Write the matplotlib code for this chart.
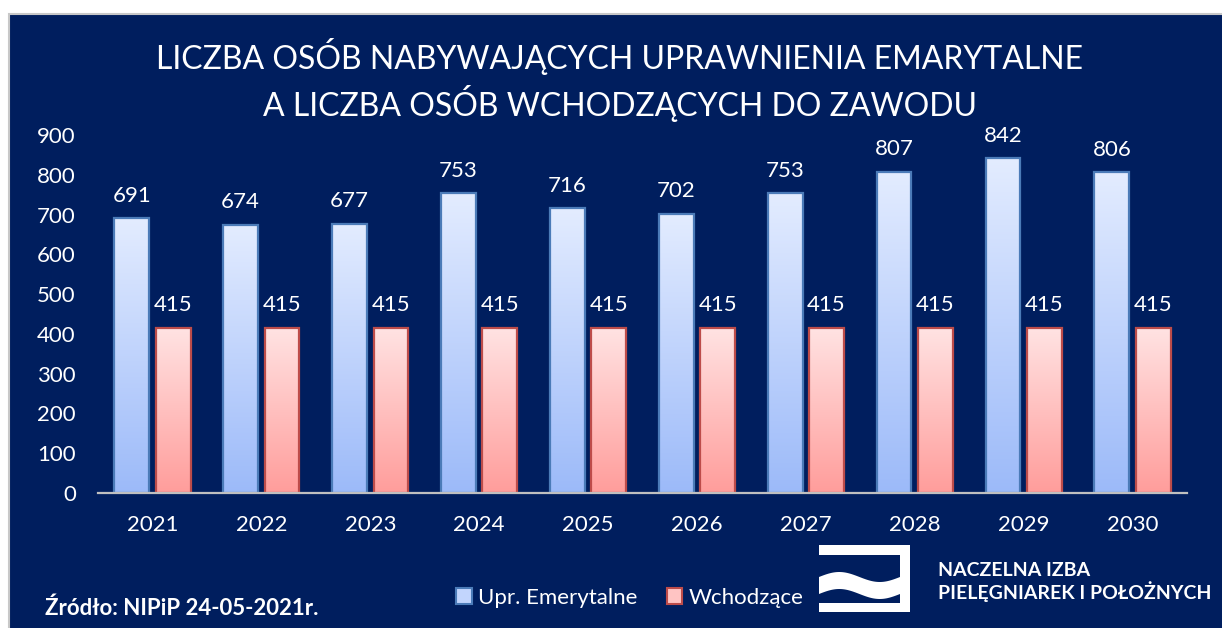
import numpy as np
import matplotlib.pyplot as plt
from matplotlib.patches import Rectangle, Polygon
from matplotlib.colors import LinearSegmentedColormap

years = ['2021', '2022', '2023', '2024', '2025', '2026', '2027', '2028', '2029', '2030']
emerytalne = [691, 674, 677, 753, 716, 702, 753, 807, 842, 806]
wchodzace = [415, 415, 415, 415, 415, 415, 415, 415, 415, 415]
yticks = [0, 100, 200, 300, 400, 500, 600, 700, 800, 900]

NAVY = '#001E5E'
W, H = 1222, 628

plt.rcParams['font.family'] = ['Lato', 'DejaVu Sans']


def px(x, y):
    # pixel position (from top-left) to figure fraction
    return x / W, 1 - y / H


def gradient_bars(ax, bars, top_color, bottom_color, edge):
    cmap = LinearSegmentedColormap.from_list('g', [bottom_color, top_color])
    grad = np.linspace(0, 1, 256).reshape(-1, 1)
    for b in bars:
        x0, y0 = b.get_x(), b.get_y()
        w, h = b.get_width(), b.get_height()
        ax.imshow(grad, cmap=cmap, origin='lower', aspect='auto',
                  extent=[x0, x0 + w, y0, y0 + h], zorder=2)
        b.set_facecolor('none')
        b.set_edgecolor(edge)
        b.set_linewidth(1.6)
        b.set_zorder(3)


def main():
    fig = plt.figure(figsize=(W / 100, H / 100), dpi=100, facecolor='white')

    # navy panel with a thin grey frame
    x0, y0 = px(9, H)
    x1, y1 = px(W, 14)
    fig.patches.append(Rectangle((x0, y0 - 0.01), x1 - x0 + 0.01, y1 - y0 + 0.01, transform=fig.transFigure,
                                 facecolor=NAVY, edgecolor='#C8C8C8', linewidth=1.5, zorder=-1))

    left, bottom = px(98, 493)
    right, top = px(1187, 135)
    ax = fig.add_axes([left, bottom, right - left, top - bottom])
    ax.set_facecolor('none')

    x = np.arange(len(years))
    width = 0.32
    off = 0.19
    b1 = ax.bar(x - off, emerytalne, width)
    b2 = ax.bar(x + off, wchodzace, width)
    gradient_bars(ax, b1, '#E3ECFF', '#9CBAF9', '#4B7BB8')
    gradient_bars(ax, b2, '#FFE3E3', '#FF9D9B', '#BD4C4A')

    for bars, vals in ((b1, emerytalne), (b2, wchodzace)):
        for b, v in zip(bars, vals):
            ax.annotate(str(v), (b.get_x() + b.get_width() / 2, v), xytext=(0, 9),
                        textcoords='offset points', ha='center', va='bottom',
                        color='white', fontsize=16)

    ax.set_xlim(-0.5, len(years) - 0.5)
    ax.set_ylim(0, 900)
    ax.set_xticks(x)
    ax.set_xticklabels(years)
    ax.set_yticks(yticks)
    ax.tick_params(length=0, colors='white', labelsize=16)
    ax.tick_params(axis='x', pad=16)
    ax.tick_params(axis='y', pad=16)
    for s in ('top', 'right', 'left'):
        ax.spines[s].set_visible(False)
    ax.spines['bottom'].set_color('#C0C0C0')
    ax.spines['bottom'].set_linewidth(1.6)
    ax.spines['bottom'].set_zorder(4)

    tx, ty = px(620, 80)
    fig.text(tx, ty, 'LICZBA OSÓB NABYWAJĄCYCH UPRAWNIENIA EMARYTALNE\nA LICZBA OSÓB WCHODZĄCYCH DO ZAWODU',
             ha='center', va='center', color='white', fontsize=23, linespacing=1.3)

    # legend
    handles = [Rectangle((0, 0), 1, 1, facecolor='#C2D5FD', edgecolor='#4B7BB8', linewidth=1.5),
               Rectangle((0, 0), 1, 1, facecolor='#FFC4C3', edgecolor='#BD4C4A', linewidth=1.5)]
    lx, ly = px(630, 598)
    fig.legend(handles, ['Upr. Emerytalne', 'Wchodzące'], loc='center', bbox_to_anchor=(lx, ly),
               ncol=2, frameon=False, handlelength=0.7, handleheight=0.7, handletextpad=0.3,
               columnspacing=1.3, labelcolor='white', fontsize=16)

    sx, sy = px(45, 608)
    fig.text(sx, sy, 'Źródło: NIPiP 24-05-2021r.', ha='left', va='center', color='white',
             fontsize=16, fontweight='bold')

    # NIPiP logo
    for (ax0, ay0, ax1, ay1) in ((819, 545, 910, 555), (900, 545, 910, 612), (819, 603, 910, 612)):
        fx0, fy0 = px(ax0, ay1)
        fx1, fy1 = px(ax1, ay0)
        fig.patches.append(Rectangle((fx0, fy0), fx1 - fx0, fy1 - fy0, transform=fig.transFigure,
                                     facecolor='white', edgecolor='none'))
    t = np.linspace(0, 1, 60)
    wx = 819 + 81 * t
    wtop = 577 - 5 * np.sin(2 * np.pi * t)
    wbot = wtop + 17
    pts = [px(a, b) for a, b in zip(wx, wtop)] + [px(a, b) for a, b in zip(wx[::-1], wbot[::-1])]
    fig.patches.append(Polygon(pts, closed=True, transform=fig.transFigure,
                               facecolor='white', edgecolor='none'))
    nx, ny = px(938, 570)
    fig.text(nx, ny, 'NACZELNA IZBA', ha='left', va='center', color='white',
             fontsize=14, fontweight='bold')
    nx, ny = px(938, 592)
    fig.text(nx, ny, 'PIELĘGNIAREK I POŁOŻNYCH', ha='left', va='center', color='white',
             fontsize=14, fontweight='bold')

    fig.savefig('out.png', dpi=100, facecolor='white')


if __name__ == '__main__':
    main()
